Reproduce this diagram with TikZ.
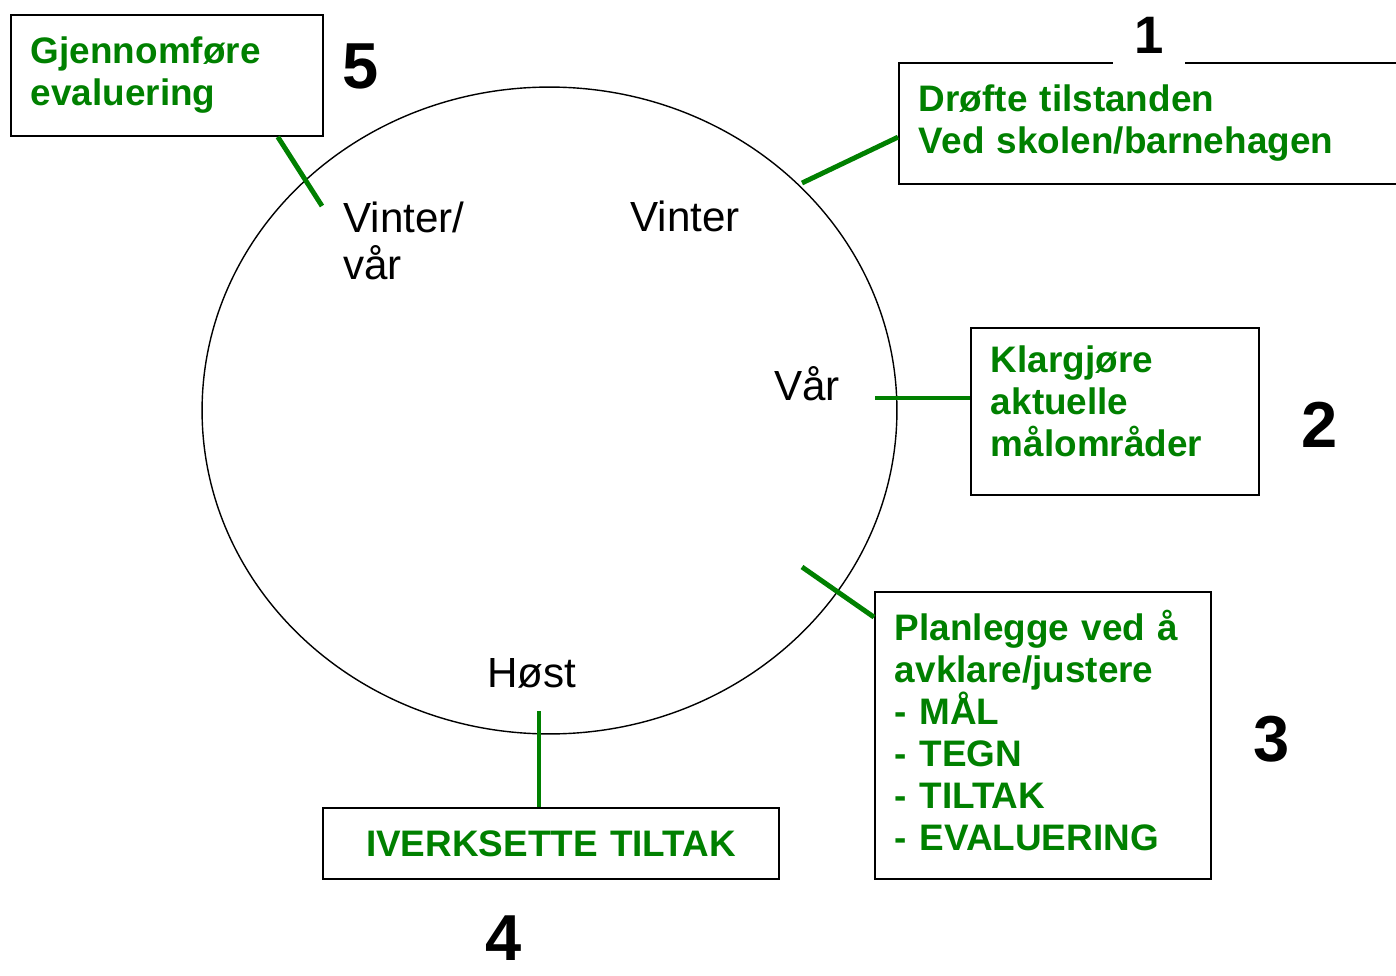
\documentclass[tikz,border=0pt]{standalone}
\usepackage{fontspec}
\setmainfont{Liberation Sans}
\usetikzlibrary{positioning}
\definecolor{stepgreen}{RGB}{0,128,0}

\begin{document}
\begin{tikzpicture}[x=0.02cm, y=-0.02cm,
    phase/.style={draw, line width=1.1pt, anchor=north west, inner xsep=0.4cm, inner ysep=0pt,
      text=stepgreen, font=\fontsize{21}{23.9}\selectfont\bfseries, align=left},
    season/.style={anchor=base west, inner sep=0pt, font=\fontsize{24}{27.2}\selectfont, align=left},
    stepno/.style={inner sep=0pt, font=\fontsize{37}{40}\selectfont\bfseries},
    link/.style={stepgreen, line width=2.8pt}]
  \useasboundingbox (0,0) rectangle (1396,976);

  % the year
  \draw[line width=0.8pt] (549.5,410.5) ellipse [x radius=6.95cm, y radius=6.47cm];
  \node[season] (vintervaar) at (343,280) {Vinter/\\vår};
  \node[season] (vinter) at (630,232) {Vinter};
  \node[season] (vaar) at (774,400) {Vår};
  \node[season] (host) at (487,687) {Høst};

  % the five steps
  \node[phase, text width=9.6cm, minimum height=2.42cm] (box1) at (898,62)
    {Drøfte tilstanden\\Ved skolen/barnehagen};
  \node[phase, text width=4.96cm, minimum height=3.34cm] (box2) at (970,327)
    {Klargjøre\\aktuelle\\målområder\rule[-0.4cm]{0pt}{0pt}};
  \node[phase, text width=5.92cm, minimum height=5.74cm] (box3) at (874,591)
    {Planlegge ved å\\avklare/justere\\- MÅL\\- TEGN\\- TILTAK\\- EVALUERING\rule[-0.2cm]{0pt}{0pt}};
  \node[phase, text width=8.32cm, minimum height=1.42cm, align=center] (box4) at (322,807)
    {IVERKSETTE TILTAK};
  \node[phase, text width=5.44cm, minimum height=2.42cm] (box5) at (10,14)
    {Gjennomføre\\evaluering};

  \coordinate (c1) at (802,183);
  \coordinate (c2) at (875,398);
  \coordinate (c3) at (802,567);
  \coordinate (c4) at (539,711);
  \coordinate (c5) at (322,206);
  \draw[link] (box1.183) -- (c1);
  \draw[link] (box2.west |- c2) -- (c2);
  \draw[link] (box3.145) -- (c3);
  \draw[link] (c4 |- box4.north) -- (c4);
  \draw[link] (box5.-29) -- (c5);

  % step numbers
  \node[stepno, font=\fontsize{30}{34}\selectfont\bfseries, fill=white,
    inner xsep=0.43cm, inner ysep=0.25cm] (n1) at (1149,35) {1};
  \node[stepno] (n2) at (1320,425) {2};
  \node[stepno] (n3) at (1272,739) {3};
  \node[stepno] (n4) at (504,938) {4};
  \node[stepno] (n5) at (361,66) {5};
\end{tikzpicture}
\end{document}
